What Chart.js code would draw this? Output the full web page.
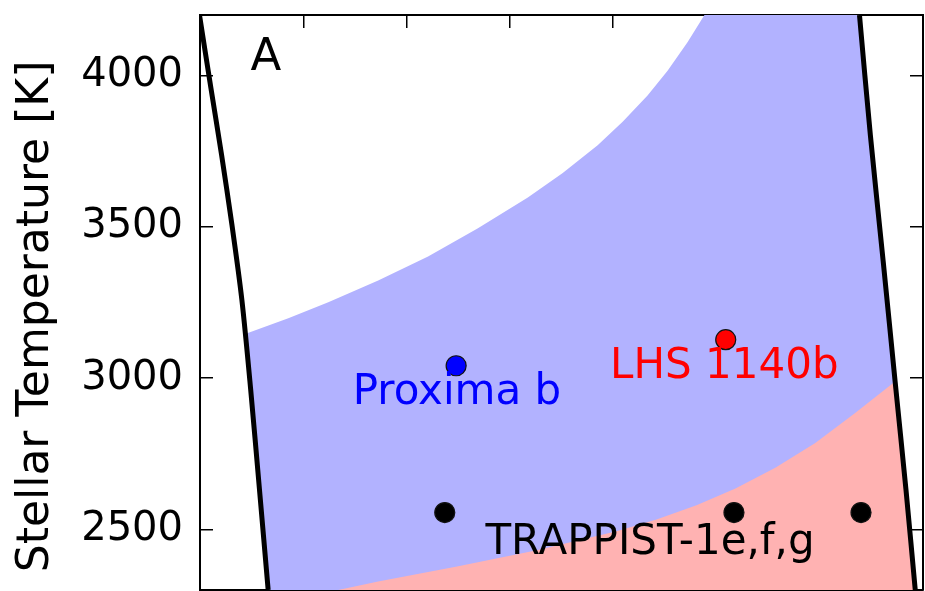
<!DOCTYPE html>
<html>
<head>
<meta charset="utf-8">
<script src="https://cdn.jsdelivr.net/npm/chart.js@4.4.0/dist/chart.umd.min.js"></script>
<style>
  html, body { margin: 0; padding: 0; background: #fff; }
  #wrap { width: 925px; height: 591px; }
</style>
</head>
<body>
<div id="wrap"><canvas id="hz-chart"></canvas></div>
<script>
// x: stellar flux (axis runs high -> low), y: stellar temperature [K]
var xTicks = [0.3, 0.4, 0.5, 0.6, 0.7, 0.8];
var yTicks = [2500, 3000, 3500, 4000];

// thick black limits, listed top -> bottom
var innerEdge = [[0.9005, 4200], [0.8895, 3960], [0.879, 3735], [0.869, 3505], [0.8595, 3260], [0.851, 2965], [0.8425, 2635], [0.834, 2300]];
var outerEdge = [[0.2615, 4200], [0.2510, 3804], [0.2385, 3385], [0.2270, 2989], [0.2165, 2632], [0.2075, 2300]];

// top of the blue band, from the inner limit up to the top of the plot
var blueTop = [[0.857, 3145], [0.8145, 3198], [0.7758, 3251], [0.7275, 3323], [0.6792, 3402], [0.6309, 3495], [0.5826, 3597],
  [0.5488, 3678], [0.5150, 3770], [0.4908, 3847], [0.4667, 3934], [0.4473, 4016], [0.4280, 4110], [0.4116, 4200]];
// top of the red band, from the bottom up to the outer limit
var redTop = [[0.7662, 2300], [0.7275, 2328], [0.6512, 2378], [0.5739, 2431], [0.4966, 2494], [0.4580, 2533], [0.4193, 2580],
  [0.3816, 2635], [0.3430, 2704], [0.3043, 2786], [0.2657, 2885], [0.2270, 2989]];

var proxima = [[0.652, 3041]];
var lhs1140 = [[0.391, 3127]];
var trappist = [[0.663, 2556], [0.383, 2556], [0.260, 2556]];

var notes = [
  {text: 'A', x: 0.8362, y: 4057, color: '#000000', size: 45},
  {text: 'Proxima b', x: 0.6512, y: 2952, color: '#0000ff', size: 42},
  {text: 'LHS 1140b', x: 0.3923, y: 3036, color: '#ff0000', size: 42},
  {text: 'TRAPPIST-1e,f,g', x: 0.4643, y: 2456, color: '#000000', size: 42}
];

var xy = function(p){ return {x: p[0], y: p[1]}; };

var blueShape = blueTop.concat(outerEdge, innerEdge.filter(function(p){ return p[1] < blueTop[0][1]; }).reverse());
var redShape = redTop.concat(outerEdge.filter(function(p){ return p[1] < redTop[redTop.length - 1][1]; }));

Chart.defaults.font.family = '"DejaVu Sans", sans-serif';
Chart.defaults.color = '#000';

var notesPlugin = {
  id: 'notes',
  afterDatasetsDraw: function(chart){
    var ctx = chart.ctx, xs = chart.scales.x, ys = chart.scales.y;
    ctx.save();
    ctx.textAlign = 'center';
    ctx.textBaseline = 'middle';
    notes.forEach(function(n){
      ctx.font = n.size + 'px "DejaVu Sans"';
      ctx.fillStyle = n.color;
      ctx.fillText(n.text, xs.getPixelForValue(n.x), ys.getPixelForValue(n.y));
    });
    ctx.restore();
  }
};

function pointSet(label, pts, color, order){
  return {
    label: label, data: pts.map(xy), showLine: false, order: order,
    pointRadius: 10, pointBackgroundColor: color, pointBorderColor: '#111', pointBorderWidth: 1.2
  };
}
function edgeSet(label, pts){
  return {
    label: label, data: pts.map(xy), order: 2, borderColor: '#000', borderWidth: 5,
    pointRadius: 0, tension: 0.3, fill: false
  };
}
function areaSet(label, pts, color, order){
  return {
    label: label, data: pts.map(xy), order: order, fill: 'shape', backgroundColor: color,
    borderColor: 'transparent', borderWidth: 0, pointRadius: 0, tension: 0
  };
}

function setXTicks(s){ s.ticks = xTicks.map(function(v){ return {value: v}; }); }
function setYTicks(s){ s.ticks = yTicks.map(function(v){ return {value: v}; }); }
// pin the plot box: left 200, right 923, top 15, bottom 590
function fitTo(w, h){
  return function(s){
    if (w !== null) s.width = w;
    if (h !== null) s.height = h;
    s.paddingLeft = 0; s.paddingRight = 0; s.paddingTop = 0; s.paddingBottom = 0;
  };
}

var gridOpts = {drawOnChartArea: false, color: '#000', lineWidth: 1.5, tickLength: -13};
var borderOpts = {display: true, color: '#000', width: 2};

new Chart(document.getElementById('hz-chart'), {
  type: 'line',
  data: {
    datasets: [
      pointSet('Proxima b', proxima, '#0000ff', 1),
      pointSet('LHS 1140b', lhs1140, '#ff0000', 1),
      pointSet('TRAPPIST-1e,f,g', trappist, '#000000', 1),
      edgeSet('inner limit', innerEdge),
      edgeSet('outer limit', outerEdge),
      areaSet('red band', redShape, 'rgb(255,178,178)', 3),
      areaSet('blue band', blueShape, 'rgb(178,178,255)', 4)
    ]
  },
  options: {
    responsive: true,
    maintainAspectRatio: false,
    animation: false,
    events: [],
    layout: {padding: 0, autoPadding: false},
    plugins: {legend: {display: false}, tooltip: {enabled: false}},
    scales: {
      x: {
        type: 'linear', position: 'bottom', reverse: true, min: 0.2, max: 0.9,
        afterBuildTicks: setXTicks, afterFit: fitTo(null, 1),
        ticks: {display: false}, grid: gridOpts, border: borderOpts
      },
      x2: {
        type: 'linear', position: 'top', reverse: true, min: 0.2, max: 0.9,
        afterBuildTicks: setXTicks, afterFit: fitTo(null, 15),
        ticks: {display: false}, grid: gridOpts, border: borderOpts
      },
      y: {
        type: 'linear', position: 'left', min: 2300, max: 4200,
        afterBuildTicks: setYTicks, afterFit: fitTo(200, null),
        ticks: {font: {size: 40}, padding: 30, color: '#000', callback: function(v){ return String(v); }},
        title: {display: true, text: 'Stellar Temperature [K]  ', font: {size: 44}, color: '#000', padding: {top: 10, bottom: 0}},
        grid: gridOpts, border: borderOpts
      },
      y2: {
        type: 'linear', position: 'right', min: 2300, max: 4200,
        afterBuildTicks: setYTicks, afterFit: fitTo(2, null),
        ticks: {display: false}, grid: gridOpts, border: borderOpts
      }
    }
  },
  plugins: [notesPlugin]
});
</script>
</body>
</html>
